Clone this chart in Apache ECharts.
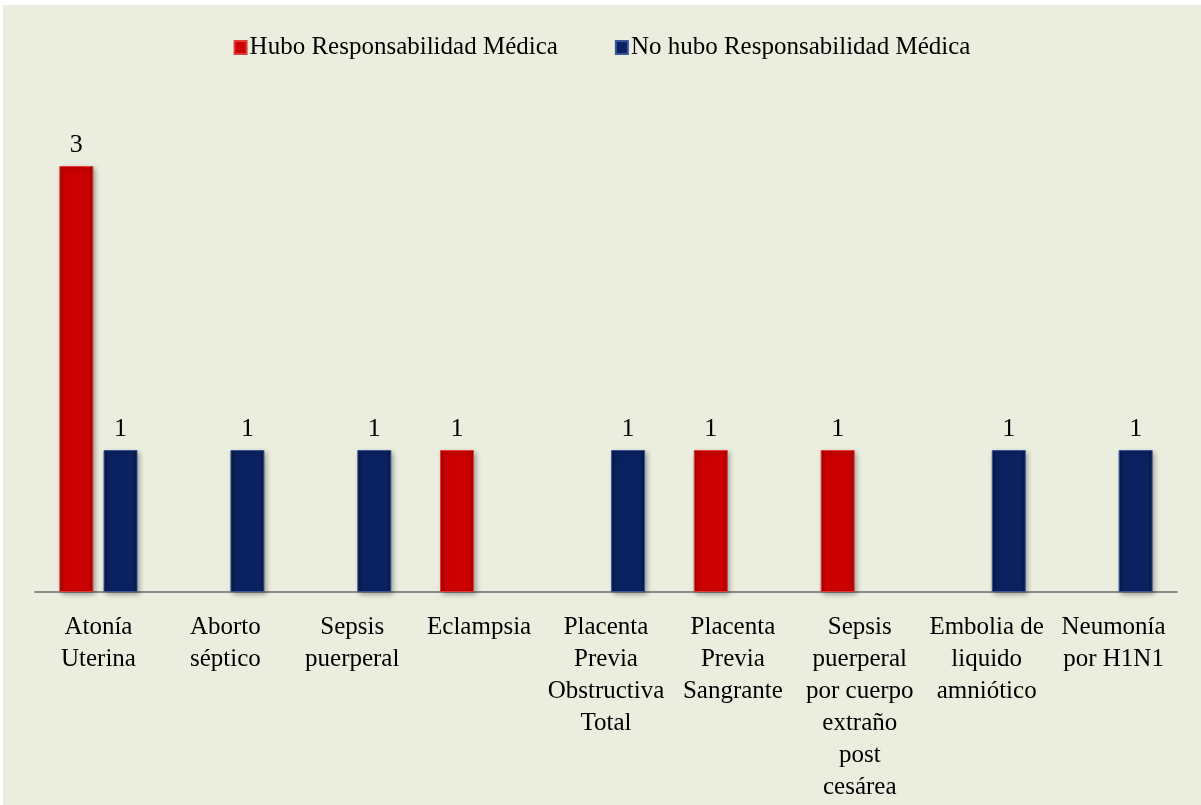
<!DOCTYPE html>
<html>
<head>
<meta charset="utf-8">
<script src="https://cdn.jsdelivr.net/npm/echarts@6/dist/echarts.min.js"></script>
<style>
  html, body { margin: 0; padding: 0; background: #ffffff; }
  #chart { position: absolute; left: 3px; top: 5px; width: 1198px; height: 800px; }
</style>
</head>
<body>
<div id="chart"></div>
<script>
// datos del gráfico
const categorias = [
    'Atonía\nUterina',
    'Aborto\nséptico',
    'Sepsis\npuerperal',
    'Eclampsia',
    'Placenta\nPrevia\nObstructiva\nTotal',
    'Placenta\nPrevia\nSangrante',
    'Sepsis\npuerperal\npor cuerpo\nextraño\npost\ncesárea',
    'Embolia de\nliquido\namniótico',
    'Neumonía\npor H1N1'
];
const seriesNombres = ['Hubo Responsabilidad Médica', 'No hubo Responsabilidad Médica'];
const huboResp = [3, null, null, 1, null, 1, 1, null, null];
const noHuboResp = [1, 1, 1, null, 1, null, null, 1, 1];

const fuente = '"Liberation Serif", "Times New Roman", serif';

function barGradient(dark, main) {
    return new echarts.graphic.LinearGradient(0, 0, 1, 0, [
        { offset: 0, color: dark },
        { offset: 0.14, color: main },
        { offset: 0.86, color: main },
        { offset: 1, color: dark }
    ]);
}

const chart = echarts.init(document.getElementById('chart'));

const option = {
    backgroundColor: '#EBEEDE',
    animation: false,
    legend: {
        top: 25,
        left: 'center',
        itemWidth: 12,
        itemHeight: 13,
        itemGap: 57,
        icon: 'rect',
        textStyle: { fontFamily: fuente, fontSize: 25, color: '#000', padding: [0, 0, 0, -2] },
        data: seriesNombres
    },
    grid: { left: 32, right: 24, top: 90, bottom: 213 },
    xAxis: {
        type: 'category',
        data: categorias,
        axisLine: { lineStyle: { color: '#8c8c8c', width: 2 } },
        axisTick: { show: false },
        axisLabel: {
            interval: 0,
            margin: 19,
            fontFamily: fuente,
            fontSize: 25,
            lineHeight: 32,
            color: '#000'
        }
    },
    yAxis: {
        type: 'value',
        min: 0,
        max: 3.5,
        show: false,
        splitLine: { show: false }
    },
    series: [
        {
            name: seriesNombres[0],
            type: 'bar',
            data: huboResp,
            barWidth: 34,
            barGap: '30%',
            itemStyle: {
                color: barGradient('#9a0000', '#cc0000'),
                borderColor: '#e03a3a',
                borderWidth: 1,
                shadowColor: 'rgba(0,0,0,0.35)',
                shadowBlur: 5,
                shadowOffsetX: 2,
                shadowOffsetY: 2
            },
            label: {
                show: true,
                position: 'top',
                distance: 8,
                fontFamily: fuente,
                fontSize: 26,
                color: '#000'
            }
        },
        {
            name: seriesNombres[1],
            type: 'bar',
            data: noHuboResp,
            barWidth: 34,
            barGap: '30%',
            itemStyle: {
                color: barGradient('#061640', '#0a2260'),
                borderColor: '#3a5598',
                borderWidth: 1,
                shadowColor: 'rgba(0,0,0,0.35)',
                shadowBlur: 5,
                shadowOffsetX: 2,
                shadowOffsetY: 2
            },
            label: {
                show: true,
                position: 'top',
                distance: 8,
                fontFamily: fuente,
                fontSize: 26,
                color: '#000'
            }
        }
    ]
};

chart.setOption(option);

window.addEventListener('resize', () => {
    chart.resize();
});
</script>
</body>
</html>
